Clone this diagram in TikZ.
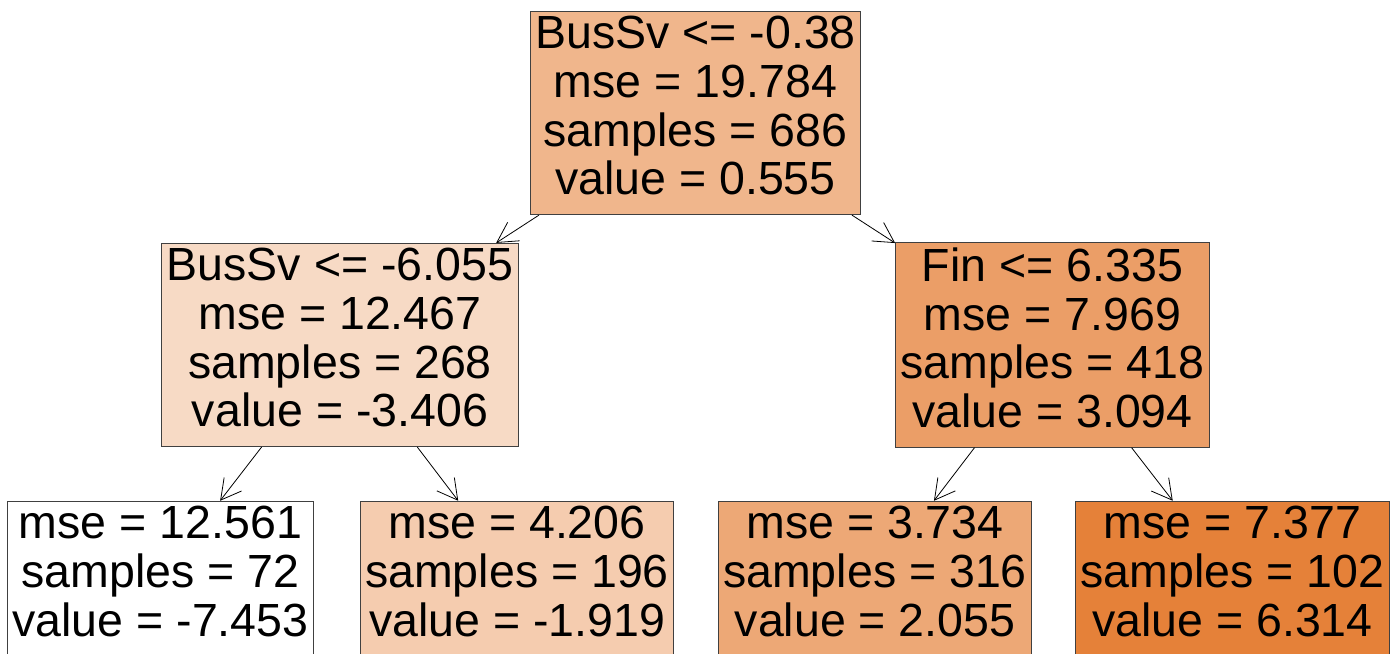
\documentclass[tikz,border=0pt]{standalone}
\usepackage{fontspec}
\setmainfont{Liberation Sans}
\usetikzlibrary{arrows.meta}
\definecolor{cRoot}{RGB}{240,182,140}
\definecolor{cBusLow}{RGB}{247,218,197}
\definecolor{cFinLow}{RGB}{235,158,103}
\definecolor{cLeafA}{RGB}{255,255,255}
\definecolor{cLeafB}{RGB}{245,204,175}
\definecolor{cLeafC}{RGB}{237,168,118}
\definecolor{cLeafD}{RGB}{229,129,57}

\begin{document}
\begin{tikzpicture}[x=1pt,y=-1pt,>={Straight Barb[length=20pt,width=22pt]},
  tnode/.style={draw=black!75,line width=1pt,align=center,inner xsep=5pt,inner ysep=5pt,
    font={\fontsize{46.5}{48.7}\selectfont},execute at begin node=\strut,
    execute at end node={\rule[-#1]{0pt}{1pt}}},
  tnode/.default=11pt,
  branch/.style={->,line width=0.8pt}]
  \useasboundingbox (0,0) rectangle (1391,653);
  % splits
  \node[tnode,fill=cRoot]   (root) at (695.5,113) {BusSv <= -0.38\\mse = 19.784\\samples = 686\\value = 0.555};
  \node[tnode,fill=cBusLow] (busL) at (340,345)   {BusSv <= -6.055\\mse = 12.467\\samples = 268\\value = -3.406};
  \node[tnode,fill=cFinLow] (finR) at (1052.5,345) {Fin <= 6.335\\mse = 7.969\\samples = 418\\value = 3.094};
  % leaves (cut by the lower edge)
  \node[tnode=13.6pt,fill=cLeafA] (leafA) at (160.5,578.5) {mse = 12.561\\samples = 72\\value = -7.453};
  \node[tnode=13.6pt,fill=cLeafB] (leafB) at (517,578.5)   {mse = 4.206\\samples = 196\\value = -1.919};
  \node[tnode=13.6pt,fill=cLeafC] (leafC) at (875,578.5)   {mse = 3.734\\samples = 316\\value = 2.055};
  \node[tnode=13.6pt,fill=cLeafD] (leafD) at (1232.5,578.5) {mse = 7.377\\samples = 102\\value = 6.314};
  % branches
  \draw[branch] (root) -- (busL);
  \draw[branch] (root) -- (finR);
  \draw[branch] (busL) -- (leafA);
  \draw[branch] (busL) -- (leafB);
  \draw[branch] (finR) -- (leafC);
  \draw[branch] (finR) -- (leafD);
\end{tikzpicture}
\end{document}
